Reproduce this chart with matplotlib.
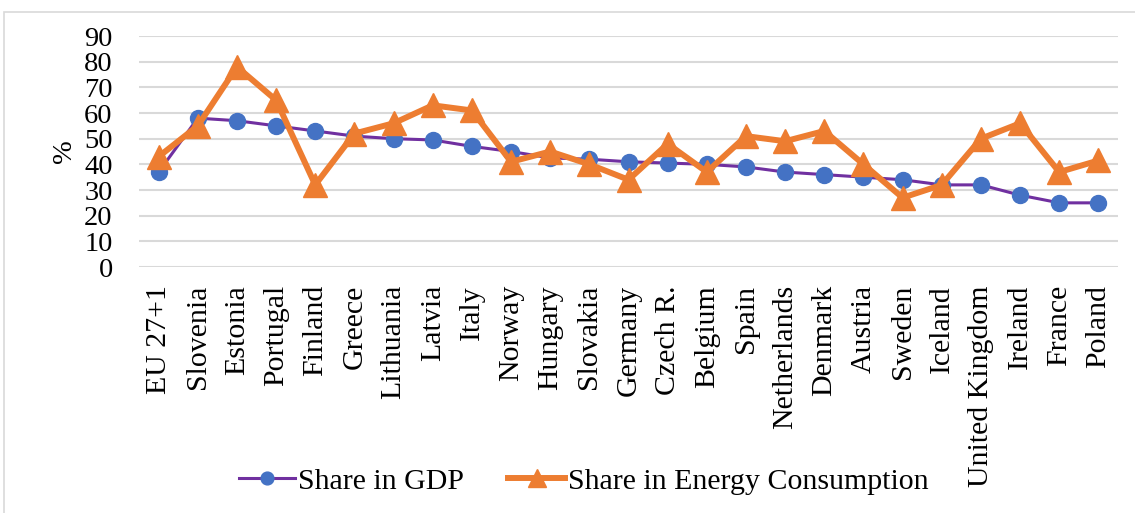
import matplotlib.pyplot as plt
from matplotlib.patches import Rectangle

countries = ['EU 27+1', 'Slovenia', 'Estonia', 'Portugal', 'Finland', 'Greece',
             'Lithuania', 'Latvia', 'Italy', 'Norway', 'Hungary', 'Slovakia',
             'Germany', 'Czech R.', 'Belgium', 'Spain', 'Netherlands', 'Denmark',
             'Austria', 'Sweden', 'Iceland', 'United Kingdom', 'Ireland',
             'France', 'Poland']
share_gdp = [37, 58, 57, 55, 53, 51, 50, 49.5, 47, 45, 42.5, 42, 41, 40.5, 40,
             39, 37, 36, 35, 34, 32, 32, 28, 25, 25]
share_energy = [43, 55, 78, 65, 32, 52, 56, 63, 61, 41, 45, 40, 34, 48, 37,
                51, 49, 53, 40, 27, 32, 50, 56, 37, 41.5]
yticks = [0, 10, 20, 30, 40, 50, 60, 70, 80, 90]

plt.rcParams['font.family'] = ['Liberation Serif', 'DejaVu Serif']

fig = plt.figure(figsize=(11.35, 5.13), dpi=100)
ax = fig.add_axes([0.1225, 0.4795, 0.8625, 0.4503])

x = list(range(len(countries)))
ax.plot(x, share_gdp, color='#7030A0', lw=2.2, marker='o', ms=11.5,
        mfc='#4472C4', mec='#4472C4', label='Share in GDP', zorder=3)
ax.plot(x, share_energy, color='#ED7D31', lw=4.3, marker='^', ms=17,
        mfc='#ED7D31', mec='#ED7D31', label='Share in Energy Consumption', zorder=4)

ax.set_xlim(-0.5, len(countries) - 0.5)
ax.set_ylim(0, 90)
ax.set_yticks(yticks)
ax.set_xticks(x)
ax.set_xticklabels(countries, rotation=90, fontsize=21.5)
ax.tick_params(axis='y', length=0, pad=19, labelsize=20.5)
ax.tick_params(axis='x', length=0, pad=13)
ax.grid(axis='y', color='#d9d9d9', lw=1.5)
ax.set_axisbelow(True)
for s in ax.spines.values():
    s.set_visible(False)
ax.set_ylabel('%', fontsize=20.5, labelpad=5)

ax.legend(loc='center', bbox_to_anchor=(0.514, 0.062), bbox_transform=fig.transFigure,
          ncol=2, frameon=False, fontsize=21.5, handlelength=1.9, columnspacing=1.5,
          handletextpad=0.08, markerscale=0.8)

fig.patches.append(Rectangle((4 / 1135, -0.01), 1.1, 1 - 12 / 513 + 0.01,
                             transform=fig.transFigure, fill=False,
                             edgecolor='#d9d9d9', lw=1.2))

fig.savefig('out.png', dpi=100)
